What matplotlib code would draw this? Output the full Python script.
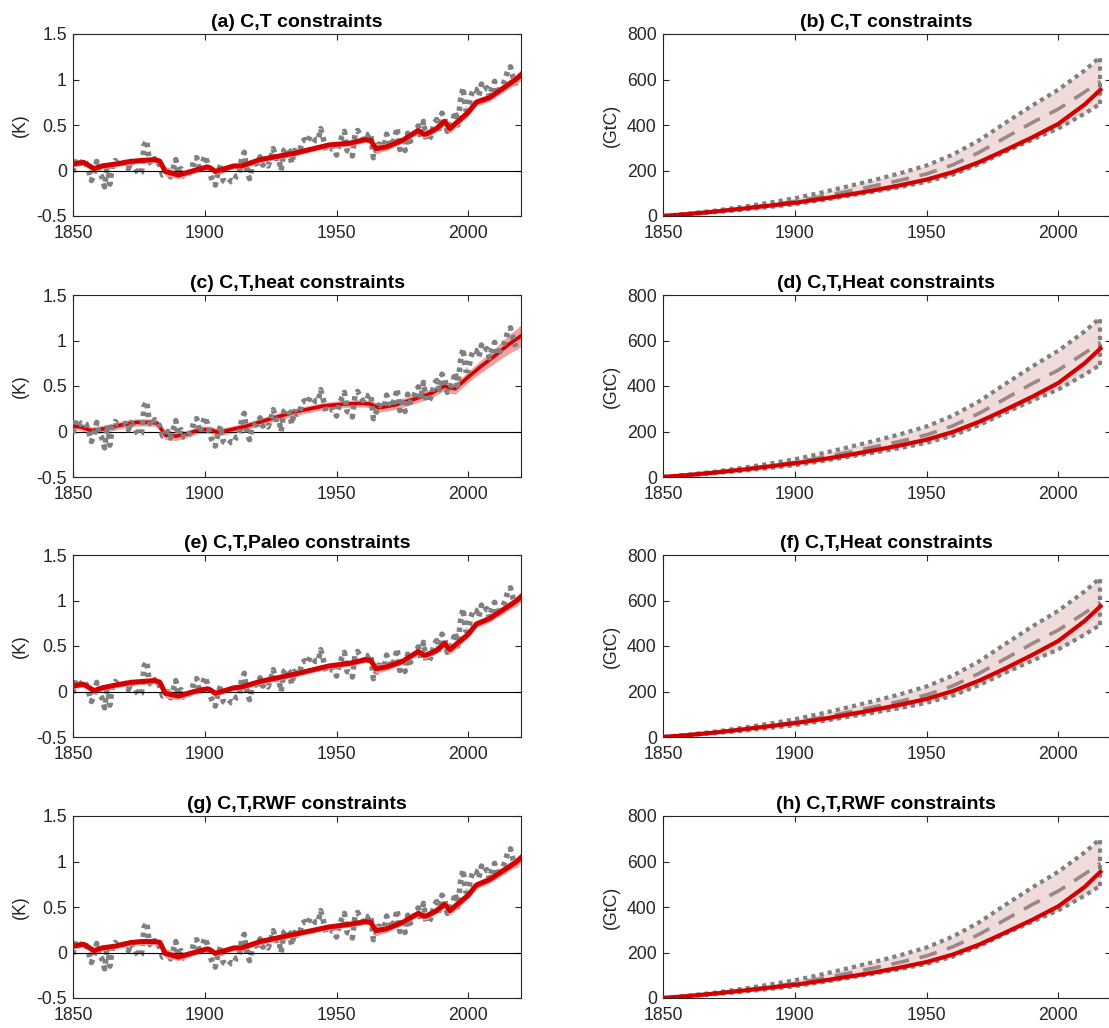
import numpy as np
import matplotlib
matplotlib.use("Agg")
import matplotlib.pyplot as plt

plt.rcParams["font.family"] = ["Liberation Sans", "DejaVu Sans"]

# observed temperature anomaly (K), annual, 1850-2018
obs_years = list(range(1850, 2019))
obs_temp = [
    -0.02, 0.13, 0.12, 0.08, 0.10, 0.08, -0.01, -0.11, -0.04, 0.10,
    -0.03, -0.07, -0.18, 0.07, -0.15, 0.06, 0.11, 0.08, 0.08, 0.08,
    0.09, 0.02, 0.10, 0.05, 0.00, -0.04, -0.02, 0.28, 0.33, 0.10,
    0.06, 0.13, 0.11, 0.05, -0.05, -0.04, 0.00, -0.07, 0.02, 0.12,
    -0.04, 0.02, -0.06, -0.07, -0.03, 0.00, 0.13, 0.14, -0.01, 0.07,
    0.16, 0.09, -0.04, -0.12, -0.16, -0.02, 0.06, -0.11, -0.13, -0.14,
    -0.11, -0.12, -0.06, -0.05, 0.13, 0.20, -0.02, -0.09, 0.04, 0.07,
    0.08, 0.15, 0.06, 0.08, 0.05, 0.13, 0.24, 0.13, 0.14, 0.00,
    0.22, 0.25, 0.22, 0.08, 0.22, 0.19, 0.21, 0.32, 0.34, 0.31,
    0.38, 0.36, 0.33, 0.33, 0.46, 0.35, 0.22, 0.24, 0.24, 0.24,
    0.17, 0.29, 0.37, 0.43, 0.22, 0.21, 0.16, 0.39, 0.44, 0.39,
    0.34, 0.40, 0.39, 0.41, 0.14, 0.21, 0.29, 0.28, 0.26, 0.40,
    0.32, 0.27, 0.35, 0.47, 0.23, 0.32, 0.22, 0.41, 0.32, 0.36,
    0.44, 0.49, 0.36, 0.54, 0.34, 0.33, 0.39, 0.52, 0.56, 0.46,
    0.63, 0.59, 0.43, 0.47, 0.53, 0.65, 0.50, 0.77, 0.91, 0.67,
    0.67, 0.82, 0.90, 0.89, 0.82, 0.95, 0.89, 0.91, 0.81, 0.91,
    0.98, 0.84, 0.88, 0.93, 1.00, 1.10, 1.14, 1.02, 0.93,
]

# modelled temperature (K) for panels a, c, e, g
yrs_a = [1850, 1854, 1858, 1861, 1866, 1872, 1876, 1881, 1883, 1885, 1890, 1896,
         1901, 1902, 1904, 1911, 1914, 1921, 1934, 1947, 1955, 1961, 1963, 1965,
         1969, 1975, 1981, 1983, 1984, 1988, 1991, 1992, 1993, 2000, 2003, 2008,
         2018, 2020]
temp_a = [0.07, 0.09, 0.02, 0.05, 0.07, 0.10, 0.11, 0.12, 0.10, -0.01, -0.05, 0.00,
          0.04, 0.03, -0.01, 0.05, 0.05, 0.12, 0.19, 0.28, 0.30, 0.34, 0.33, 0.24,
          0.26, 0.33, 0.44, 0.40, 0.40, 0.46, 0.54, 0.50, 0.46, 0.64, 0.75, 0.80,
          1.00, 1.05]
unc_a = [0.03, 0.03, 0.03, 0.03, 0.03, 0.03, 0.03, 0.03, 0.04, 0.05, 0.04, 0.03,
         0.03, 0.03, 0.03, 0.03, 0.03, 0.03, 0.03, 0.03, 0.03, 0.03, 0.03, 0.05,
         0.04, 0.03, 0.03, 0.04, 0.04, 0.03, 0.04, 0.05, 0.05, 0.04, 0.04, 0.04,
         0.05, 0.06]

yrs_c = [1850, 1853, 1857, 1862, 1868, 1874, 1880, 1882, 1885, 1889, 1893, 1898,
         1902, 1905, 1910, 1916, 1925, 1935, 1945, 1952, 1960, 1963, 1966, 1972,
         1980, 1986, 1991, 1993, 1995, 2000, 2005, 2010, 2015, 2020]
temp_c = [0.06, 0.05, 0.01, 0.03, 0.07, 0.10, 0.10, 0.09, -0.04, -0.05, -0.03, 0.02,
          0.02, -0.01, 0.02, 0.06, 0.14, 0.22, 0.28, 0.30, 0.31, 0.30, 0.26, 0.29,
          0.36, 0.42, 0.50, 0.48, 0.47, 0.60, 0.72, 0.83, 0.95, 1.05]
unc_c = [0.04, 0.04, 0.04, 0.04, 0.04, 0.04, 0.04, 0.04, 0.05, 0.05, 0.04, 0.04,
         0.04, 0.04, 0.04, 0.04, 0.04, 0.04, 0.04, 0.04, 0.04, 0.04, 0.05, 0.05,
         0.05, 0.05, 0.05, 0.06, 0.06, 0.06, 0.07, 0.08, 0.10, 0.12]

yrs_e = [1850, 1854, 1858, 1861, 1866, 1872, 1876, 1881, 1883, 1885, 1890, 1896,
         1901, 1902, 1904, 1911, 1914, 1921, 1934, 1947, 1955, 1961, 1963, 1965,
         1969, 1975, 1981, 1983, 1984, 1988, 1991, 1992, 1993, 2000, 2003, 2008,
         2018, 2020]
temp_e = [0.06, 0.08, 0.01, 0.04, 0.07, 0.10, 0.11, 0.12, 0.10, -0.02, -0.05, 0.00,
          0.03, 0.02, -0.02, 0.04, 0.05, 0.11, 0.19, 0.28, 0.31, 0.35, 0.34, 0.25,
          0.27, 0.33, 0.44, 0.40, 0.40, 0.45, 0.53, 0.49, 0.46, 0.63, 0.74, 0.80,
          0.99, 1.04]
unc_e = unc_a

yrs_g = yrs_a
temp_g = [0.07, 0.09, 0.02, 0.05, 0.07, 0.11, 0.12, 0.12, 0.11, -0.01, -0.05, 0.00,
          0.04, 0.03, -0.01, 0.05, 0.05, 0.12, 0.20, 0.28, 0.31, 0.34, 0.33, 0.24,
          0.26, 0.33, 0.43, 0.40, 0.40, 0.46, 0.53, 0.50, 0.46, 0.63, 0.74, 0.80,
          0.99, 1.04]
unc_g = unc_a

# cumulative emissions (GtC)
cum_years = [1850, 1860, 1870, 1880, 1890, 1900, 1910, 1920, 1930, 1940, 1950,
             1960, 1970, 1980, 1990, 2000, 2010, 2016]
cum_obs = [0, 9, 20, 33, 48, 64, 85, 108, 132, 157, 185, 225, 280, 345, 410, 470, 545, 592]
cum_hi = [0, 11, 24, 40, 58, 78, 103, 130, 158, 188, 222, 270, 333, 410, 485, 555, 640, 700]
cum_lo = [0, 8, 17, 27, 39, 52, 69, 88, 107, 127, 150, 182, 228, 283, 335, 385, 450, 494]
cum_b = [0, 9, 20, 32, 45, 58, 75, 93, 113, 135, 160, 193, 237, 290, 345, 405, 490, 555]
cum_d = [0, 9, 20, 32, 46, 60, 77, 96, 117, 139, 164, 198, 243, 296, 352, 413, 500, 565]
cum_f = [0, 9, 20, 33, 47, 61, 78, 98, 119, 142, 167, 202, 248, 302, 360, 422, 510, 575]
cum_h = [0, 9, 20, 32, 45, 58, 75, 93, 112, 134, 158, 191, 235, 288, 343, 403, 488, 555]

left_titles = ["(a) C,T constraints", "(c) C,T,heat constraints",
               "(e) C,T,Paleo constraints", "(g) C,T,RWF constraints"]
right_titles = ["(b) C,T constraints", "(d) C,T,Heat constraints",
                "(f) C,T,Heat constraints", "(h) C,T,RWF constraints"]
left_models = [(yrs_a, temp_a, unc_a), (yrs_c, temp_c, unc_c),
               (yrs_e, temp_e, unc_e), (yrs_g, temp_g, unc_g)]
right_models = [cum_b, cum_d, cum_f, cum_h]

RED = "#D40000"
GRAY = "#808080"
AXC = "#262626"
FS = 12.7

W, H = 1109, 1028
fig = plt.figure(figsize=(W / 100, H / 100), dpi=100)

tops = [34, 295, 555, 816]
ax_h = 182


def style(ax):
    ax.tick_params(direction="in", length=4.5, width=0.8, colors=AXC,
                   labelsize=FS, top=True, right=True)
    ax.tick_params(axis="x", pad=6.5)
    ax.tick_params(axis="y", pad=4.5)
    for s in ax.spines.values():
        s.set_color(AXC)
        s.set_linewidth(0.8)
    ax.set_xlim(1850, 2020)
    ax.set_xticks([1850, 1900, 1950, 2000])


for i in range(4):
    bottom = 1 - (tops[i] + ax_h) / H
    # left column: temperature
    ax = fig.add_axes([73 / W, bottom, 448 / W, ax_h / H])
    yrs, tm, un = left_models[i]
    yrs = np.array(yrs)
    tm = np.array(tm)
    un = np.array(un)
    ax.fill_between(yrs, tm - un, tm + un, color="#F4A0A0", lw=0, zorder=2)
    ax.axhline(0, color="k", lw=0.8, zorder=3)
    if i == 1:
        ax.plot(yrs, tm, color=RED, lw=2.6, zorder=3)
        ax.plot(obs_years, obs_temp, ls=(0, (0.8, 0.8)), color=GRAY, lw=4, zorder=4)
    else:
        ax.plot(obs_years, obs_temp, ls=(0, (0.8, 0.8)), color=GRAY, lw=4, zorder=1)
        ax.plot(yrs, tm, color=RED, lw=3.6, zorder=5)
    style(ax)
    ax.set_ylim(-0.5, 1.5)
    ax.set_yticks([-0.5, 0, 0.5, 1, 1.5])
    ax.set_yticklabels(["-0.5", "0", "0.5", "1", "1.5"])
    ax.set_ylabel("(K)", fontsize=FS, color=AXC, labelpad=5)
    ax.set_title(left_titles[i], fontsize=14, fontweight="bold", pad=5)

    # right column: cumulative emissions, clipped by the figure edge
    ax2 = fig.add_axes([663 / W, bottom, 448 / W, ax_h / H])
    ax2.plot(cum_years, cum_obs, ls=(0, (5, 3)), color="#8a8a8a", lw=2.6, zorder=2)
    ax2.fill_between(cum_years, cum_lo, cum_hi, color=(0.8, 0.5, 0.5), alpha=0.28,
                     lw=0, zorder=3)
    ax2.plot(cum_years, cum_hi, ls=(0, (1, 1)), color=GRAY, lw=3.0, zorder=4)
    ax2.plot(cum_years, cum_lo, ls=(0, (1, 1)), color=GRAY, lw=3.0, zorder=4)
    ax2.plot([cum_years[-1], cum_years[-1]], [cum_lo[-1], cum_hi[-1]],
             ls=(0, (1, 1)), color=GRAY, lw=3.0, zorder=4)
    ax2.plot(cum_years, right_models[i], color=RED, lw=3.0, zorder=5)
    style(ax2)
    ax2.set_ylim(0, 800)
    ax2.set_yticks([0, 200, 400, 600, 800])
    ax2.set_ylabel("(GtC)", fontsize=FS, color=AXC, labelpad=5)
    ax2.set_title(right_titles[i], fontsize=14, fontweight="bold", pad=5,
                  x=(1109 - 663) / 2 / 448)

fig.savefig("out.png", dpi=100)
